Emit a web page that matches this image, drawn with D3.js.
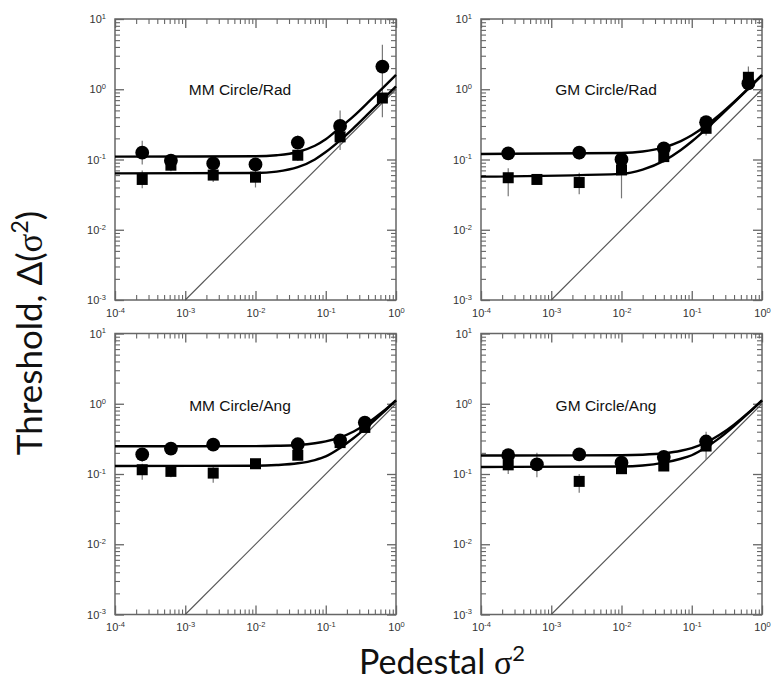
<!DOCTYPE html>
<html><head><meta charset="utf-8">
<script src="https://cdn.jsdelivr.net/npm/d3@7"></script>
<style>body{margin:0;background:#fff}</style>
</head><body><svg id="c" width="773" height="683"></svg>
<script>
// ---------- data ----------
const panelTitles = ["MM Circle/Rad", "GM Circle/Rad", "MM Circle/Ang", "GM Circle/Ang"];
const xTickValues = [1e-4, 1e-3, 1e-2, 1e-1, 1];
const yTickValues = [1e-3, 1e-2, 1e-1, 1, 10];
const identityLine = [1e-3, 1];

// MM Circle/Rad
const mmRadCircleX  = [0.000244, 0.000625, 0.0025, 0.01, 0.04, 0.16, 0.64];
const mmRadCircleY  = [0.125, 0.096, 0.088, 0.085, 0.174, 0.30, 2.1];
const mmRadCircleLo = [0.085, 0.08, 0.075, 0.075, 0.14, 0.2, 1.1];
const mmRadCircleHi = [0.185, 0.115, 0.105, 0.1, 0.22, 0.5, 4.3];
const mmRadSquareX  = [0.000244, 0.000625, 0.0025, 0.01, 0.04, 0.16, 0.64];
const mmRadSquareY  = [0.052, 0.083, 0.060, 0.056, 0.115, 0.21, 0.75];
const mmRadSquareLo = [0.039, 0.068, 0.048, 0.04, 0.095, 0.137, 0.4];
const mmRadSquareHi = [0.07, 0.1, 0.075, 0.07, 0.135, 0.3, 1.1];

// GM Circle/Rad
const gmRadCircleX  = [0.000244, 0.0025, 0.01, 0.04, 0.16, 0.64];
const gmRadCircleY  = [0.122, 0.125, 0.1, 0.144, 0.34, 1.21];
const gmRadCircleLo = [0.1, 0.1, 0.075, 0.12, 0.27, 0.97];
const gmRadCircleHi = [0.145, 0.15, 0.125, 0.17, 0.4, 1.5];
const gmRadSquareX  = [0.000244, 0.000625, 0.0025, 0.01, 0.04, 0.16, 0.64];
const gmRadSquareY  = [0.055, 0.052, 0.047, 0.071, 0.11, 0.278, 1.48];
const gmRadSquareLo = [0.03, 0.046, 0.032, 0.028, 0.09, 0.22, 1.2];
const gmRadSquareHi = [0.075, 0.058, 0.065, 0.09, 0.13, 0.32, 2.1];

// MM Circle/Ang
const mmAngCircleX  = [0.000244, 0.000625, 0.0025, 0.04, 0.16, 0.36];
const mmAngCircleY  = [0.19, 0.23, 0.262, 0.265, 0.30, 0.54];
const mmAngCircleLo = [0.15, 0.19, 0.23, 0.23, 0.27, 0.47];
const mmAngCircleHi = [0.23, 0.27, 0.3, 0.3, 0.34, 0.6];
const mmAngSquareX  = [0.000244, 0.000625, 0.0025, 0.01, 0.04, 0.16, 0.36];
const mmAngSquareY  = [0.115, 0.109, 0.103, 0.14, 0.185, 0.28, 0.46];
const mmAngSquareLo = [0.083, 0.09, 0.075, 0.13, 0.16, 0.25, 0.42];
const mmAngSquareHi = [0.14, 0.13, 0.13, 0.15, 0.21, 0.3, 0.5];

// GM Circle/Ang
const gmAngCircleX  = [0.000244, 0.000625, 0.0025, 0.01, 0.04, 0.16];
const gmAngCircleY  = [0.185, 0.137, 0.19, 0.145, 0.175, 0.29];
const gmAngCircleLo = [0.16, 0.09, 0.17, 0.12, 0.15, 0.24];
const gmAngCircleHi = [0.21, 0.2, 0.21, 0.17, 0.2, 0.4];
const gmAngSquareX  = [0.000244, 0.0025, 0.01, 0.04, 0.16];
const gmAngSquareY  = [0.135, 0.0785, 0.119, 0.13, 0.25];
const gmAngSquareLo = [0.1, 0.054, 0.1, 0.11, 0.16];
const gmAngSquareHi = [0.16, 0.1, 0.13, 0.15, 0.3];

// fitted curves
const fitX = [1e-4, 0.01, 0.02, 0.04, 0.07, 0.1, 0.16, 0.25, 0.4, 0.64, 1];
const mmRadFitUpper = [0.11, 0.111, 0.115, 0.128, 0.157, 0.194, 0.285, 0.415, 0.65, 1.03, 1.6];
const mmRadFitLower = [0.0635, 0.0644, 0.0673, 0.0776, 0.1003, 0.1275, 0.187, 0.282, 0.445, 0.707, 1.10];
const gmRadFitUpper = [0.12, 0.124, 0.13, 0.149, 0.183, 0.221, 0.304, 0.435, 0.662, 1.031, 1.59];
const gmRadFitLower = [0.057, 0.0624, 0.0718, 0.0956, 0.1366, 0.1804, 0.271, 0.41, 0.645, 1.022, 1.59];
const mmAngFitUpper = [0.248, 0.249, 0.252, 0.259, 0.274, 0.291, 0.332, 0.403, 0.536, 0.763, 1.119];
const mmAngFitLower = [0.13, 0.131, 0.134, 0.142, 0.158, 0.178, 0.235, 0.325, 0.48, 0.734, 1.12];
const gmAngFitUpper = [0.183, 0.185, 0.188, 0.197, 0.214, 0.234, 0.281, 0.361, 0.505, 0.747, 1.12];
const gmAngFitLower = [0.126, 0.128, 0.132, 0.145, 0.165, 0.185, 0.24, 0.327, 0.481, 0.734, 1.12];

// ---------- assemble ----------
function rows(xs, ys, lo, hi) { return xs.map((x, i) => ({x, y: ys[i], lo: lo[i], hi: hi[i]})); }
const panels = [
  {title: panelTitles[0], circles: rows(mmRadCircleX, mmRadCircleY, mmRadCircleLo, mmRadCircleHi),
   squares: rows(mmRadSquareX, mmRadSquareY, mmRadSquareLo, mmRadSquareHi), fits: [mmRadFitUpper, mmRadFitLower]},
  {title: panelTitles[1], circles: rows(gmRadCircleX, gmRadCircleY, gmRadCircleLo, gmRadCircleHi),
   squares: rows(gmRadSquareX, gmRadSquareY, gmRadSquareLo, gmRadSquareHi), fits: [gmRadFitUpper, gmRadFitLower]},
  {title: panelTitles[2], circles: rows(mmAngCircleX, mmAngCircleY, mmAngCircleLo, mmAngCircleHi),
   squares: rows(mmAngSquareX, mmAngSquareY, mmAngSquareLo, mmAngSquareHi), fits: [mmAngFitUpper, mmAngFitLower]},
  {title: panelTitles[3], circles: rows(gmAngCircleX, gmAngCircleY, gmAngCircleLo, gmAngCircleHi),
   squares: rows(gmAngSquareX, gmAngSquareY, gmAngSquareLo, gmAngSquareHi), fits: [gmAngFitUpper, gmAngFitLower]}
];

const W = 773, H = 683;
const svg = d3.select("#c");
svg.append("rect").attr("width", W).attr("height", H).attr("fill", "#fff");

const panelLeft = [115, 481, 115, 481];
const panelTop = [19, 19, 333.5, 333.5];
const pw = 281, ph = 281;

const xMinor = [], yMinor = [];
xTickValues.slice(0, -1).forEach(d => { for (let m = 2; m <= 9; m++) xMinor.push(d * m); });
yTickValues.slice(0, -1).forEach(d => { for (let m = 2; m <= 9; m++) yMinor.push(d * m); });

const tickFont = "'Liberation Sans', Arial, sans-serif";
function powLabels(sel) {
  sel.selectAll(".tick text").each(function(d) {
    const t = d3.select(this);
    const e = Math.round(Math.log10(d));
    t.text("").attr("font-family", tickFont).attr("font-size", 11).attr("fill", "#333");
    t.append("tspan").text("10");
    t.append("tspan").text(e < 0 ? "-" + (-e) : String(e)).attr("font-size", 7.5).attr("dy", "-0.55em");
  });
}

panels.forEach((p, i) => {
  const g = svg.append("g").attr("transform", `translate(${panelLeft[i]},${panelTop[i]})`);
  const x = d3.scaleLog().domain([1e-4, 1]).range([0, pw]);
  const y = d3.scaleLog().domain([1e-3, 10]).range([ph, 0]);

  // axes (ticks inward on all four sides)
  const axes = [
    [d3.axisBottom(x), `translate(0,${ph})`, true, xTickValues, xMinor],
    [d3.axisTop(x), `translate(0,0)`, false, xTickValues, xMinor],
    [d3.axisLeft(y), `translate(0,0)`, true, yTickValues, yMinor],
    [d3.axisRight(y), `translate(${pw},0)`, false, yTickValues, yMinor]
  ];
  axes.forEach(([ax, tr, lab, maj, min]) => {
    const gm = g.append("g").attr("transform", tr)
      .call(ax.tickValues(maj).tickSizeInner(-9).tickSizeOuter(0).tickPadding(lab ? 9 : 0)
        .tickFormat(lab ? (d => d) : () => ""));
    gm.select(".domain").remove();
    gm.selectAll(".tick line").attr("stroke", "#666").attr("stroke-width", 1.3);
    if (lab) powLabels(gm);
    const gn = g.append("g").attr("transform", tr)
      .call(ax.tickValues(min).tickSizeInner(-5).tickSizeOuter(0).tickFormat(() => ""));
    gn.select(".domain").remove();
    gn.selectAll(".tick line").attr("stroke", "#666").attr("stroke-width", 1.1);
  });
  g.append("rect").attr("width", pw).attr("height", ph)
    .attr("fill", "none").attr("stroke", "#666").attr("stroke-width", 1.5);

  // identity line
  g.append("path").datum(identityLine)
    .attr("d", d3.line().x(d => x(d)).y(d => y(d)))
    .attr("stroke", "#555").attr("stroke-width", 1.1).attr("fill", "none");

  // error bars
  const allPts = p.circles.concat(p.squares);
  g.selectAll(".eb").data(allPts).join("line")
    .attr("x1", d => x(d.x)).attr("x2", d => x(d.x))
    .attr("y1", d => y(d.lo)).attr("y2", d => y(d.hi))
    .attr("stroke", "#777").attr("stroke-width", 1.2);

  // fits
  const line = d3.line().x((d, j) => x(fitX[j])).y(d => y(d)).curve(d3.curveMonotoneX);
  p.fits.forEach(f => {
    g.append("path").datum(f).attr("d", line)
      .attr("fill", "none").attr("stroke", "#000").attr("stroke-width", 2.4);
  });

  // markers
  const s = 11;
  g.selectAll(".sq").data(p.squares).join("rect")
    .attr("x", d => x(d.x) - s / 2).attr("y", d => y(d.y) - s / 2)
    .attr("width", s).attr("height", s).attr("fill", "#000");
  g.selectAll(".ci").data(p.circles).join("circle")
    .attr("cx", d => x(d.x)).attr("cy", d => y(d.y)).attr("r", 6.9).attr("fill", "#000");

  // title
  g.append("text").attr("x", 125).attr("y", i < 2 ? 76 : 77)
    .attr("text-anchor", "middle").attr("font-family", tickFont)
    .attr("font-size", 15.5).attr("fill", "#111").text(p.title);
});

// axis titles
const titleFont = "Lato, 'Open Sans', sans-serif";
const xt = svg.append("text").attr("x", 442).attr("y", 674).attr("text-anchor", "middle")
  .attr("font-family", titleFont).attr("font-size", 34).attr("fill", "#111");
xt.append("tspan").text("Pedestal ");
xt.append("tspan").text("σ").attr("font-family", "'Liberation Serif', serif");
xt.append("tspan").text("2").attr("font-size", 22).attr("dy", "-0.6em");

const yt = svg.append("text").attr("transform", "translate(42,333) rotate(-90)").attr("text-anchor", "middle")
  .attr("font-family", titleFont).attr("font-size", 35).attr("fill", "#111");
yt.append("tspan").text("Threshold, Δ(");
yt.append("tspan").text("σ").attr("font-family", "'Liberation Serif', serif");
yt.append("tspan").text("2").attr("font-size", 23).attr("dy", "-0.6em");
yt.append("tspan").text(")").attr("dy", "0.4em");
</script></body></html>
